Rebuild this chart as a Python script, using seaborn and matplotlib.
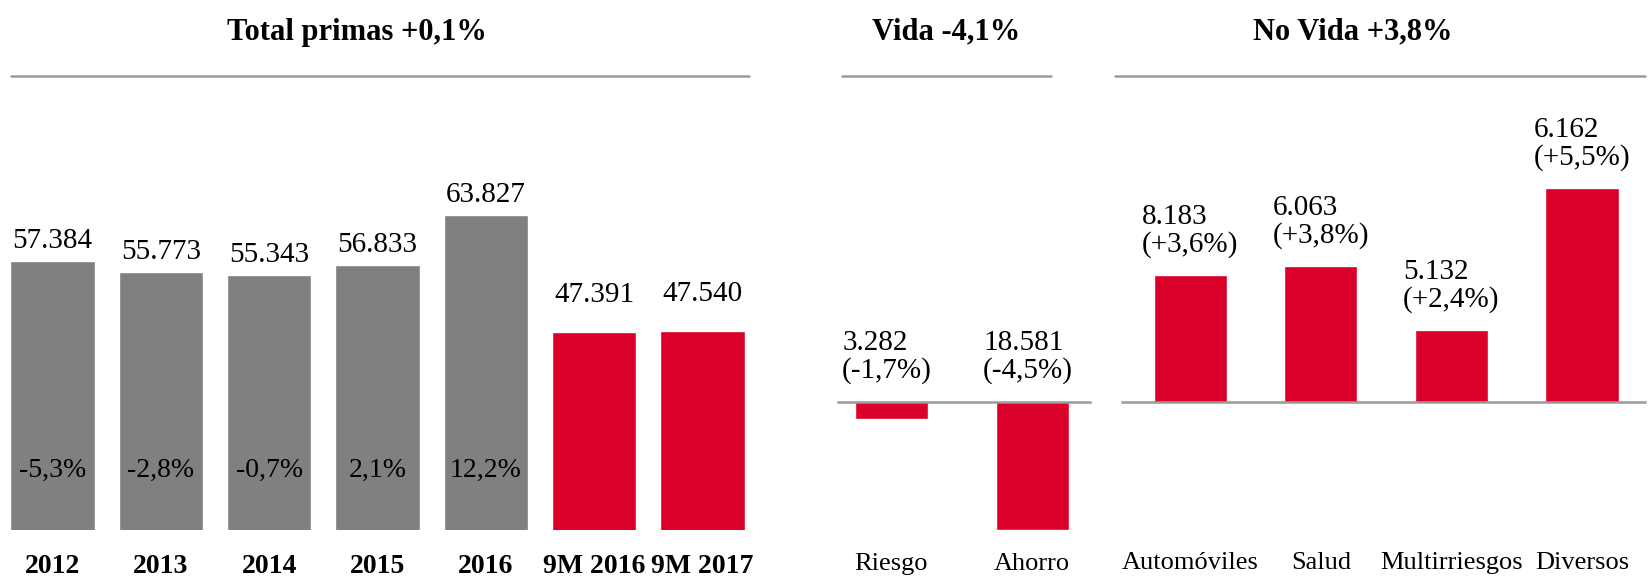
import numpy as np
import matplotlib.pyplot as plt
from matplotlib.lines import Line2D
import seaborn as sns
import pandas as pd

# datos
years = ['2012', '2013', '2014', '2015', '2016', '9M 2016', '9M 2017']
primas = [57384, 55773, 55343, 56833, 63827, 47391, 47540]
var_total = [-5.3, -2.8, -0.7, 2.1, 12.2, None, None]

vida_cat = ['Riesgo', 'Ahorro']
vida_val = [3282, 18581]
vida_var = [-1.7, -4.5]

novida_cat = ['Automóviles', 'Salud', 'Multirriesgos', 'Diversos']
novida_val = [8183, 6063, 5132, 6162]
novida_var = [3.6, 3.8, 2.4, 5.5]

GRAY = '#808080'
RED = '#DB0029'
LINE = '#9a9a9a'

sns.set_style('white')
plt.rcParams['font.family'] = ['Liberation Serif', 'DejaVu Serif']
plt.rcParams['text.color'] = 'black'
plt.rcParams['xtick.color'] = 'black'


def miles(v):
    return f'{v:,}'.replace(',', '.')


def pct(v, sign=False):
    s = f'{v:+.1f}' if sign else f'{v:.1f}'
    return s.replace('.', ',') + '%'


def clean(ax):
    for s in ax.spines.values():
        s.set_visible(False)
    ax.set_yticks([])
    ax.set_ylabel('')
    ax.set_xlabel('')
    ax.tick_params(axis='x', length=0)


fig = plt.figure(figsize=(16.48, 5.84), dpi=100)

# --- Total primas ---
ax1 = fig.add_axes([0.0, 0.0917, 0.4598, 0.7788])
colors1 = [GRAY] * 5 + [RED] * 2
sns.barplot(x=years, y=primas, hue=years, palette=colors1, legend=False,
            width=0.78, saturation=1, ax=ax1)
clean(ax1)
ax1.set_xlim(-0.485, 6.51)
ax1.set_ylim(19500, 83364)
ax1.tick_params(axis='x', pad=17, labelsize=20)
for t in ax1.get_xticklabels():
    t.set_fontweight('bold')
for i, v in enumerate(primas):
    off = 5 if i < 5 else 17
    ax1.annotate(miles(v), (i, v), xytext=(0, off), textcoords='offset points',
                 ha='center', va='bottom', fontsize=21)
    if var_total[i] is not None:
        ax1.text(i, 0.1316, pct(var_total[i]), transform=ax1.get_xaxis_transform(),
                 ha='center', va='center', fontsize=20)

# --- Vida ---
ax2 = fig.add_axes([0.5083, 0.0917, 0.1531, 0.2195])
sns.barplot(x=vida_cat, y=vida_var, color=RED, width=0.52, saturation=1, ax=ax2)
clean(ax2)
ax2.set_xlim(-0.38, 1.41)
ax2.set_ylim(-4.5, -1.28)
ax2.spines['top'].set_visible(True)
ax2.spines['top'].set_color(LINE)
ax2.spines['top'].set_linewidth(1.8)
ax2.tick_params(axis='x', pad=16, labelsize=19)
for i, v in enumerate(vida_val):
    ax2.annotate(miles(v) + '\n(' + pct(vida_var[i]) + ')', (i, -1.28),
                 xytext=(-3, 13), textcoords='offset points', ha='center',
                 va='bottom', multialignment='left', linespacing=1.05,
                 fontsize=21, annotation_clip=False)

# --- No Vida ---
ax3 = fig.add_axes([0.6811, 0.3112, 0.3169, 0.5593])
sns.barplot(x=novida_cat, y=novida_var, color=RED, width=0.56, saturation=1, ax=ax3)
clean(ax3)
ax3.set_xlim(-0.52, 3.48)
ax3.set_ylim(0.813, 7.95)
ax3.spines['bottom'].set_visible(True)
ax3.spines['bottom'].set_color(LINE)
ax3.spines['bottom'].set_linewidth(1.8)
ax3.tick_params(axis='x', pad=108, labelsize=19)
for i, v in enumerate(novida_val):
    ax3.annotate(miles(v) + '\n(' + pct(novida_var[i], sign=True) + ')',
                 (i, novida_var[i]), xytext=(0, 12), textcoords='offset points',
                 ha='center', va='bottom', multialignment='left', linespacing=1.05,
                 fontsize=21, annotation_clip=False)

# titulos y lineas superiores
titles = [('Total primas +0,1%', 0.2168), ('Vida -4,1%', 0.574), ('No Vida +3,8%', 0.8208)]
for txt, x in titles:
    fig.text(x, 0.945, txt, ha='center', va='center', fontsize=22, fontweight='bold')
for x0, x1 in [(0.0064, 0.4547), (0.5108, 0.6378), (0.6767, 0.998)]:
    fig.add_artist(Line2D([x0, x1], [0.8705, 0.8705], color=LINE, lw=1.8))

fig.savefig('out.png', dpi=100)
